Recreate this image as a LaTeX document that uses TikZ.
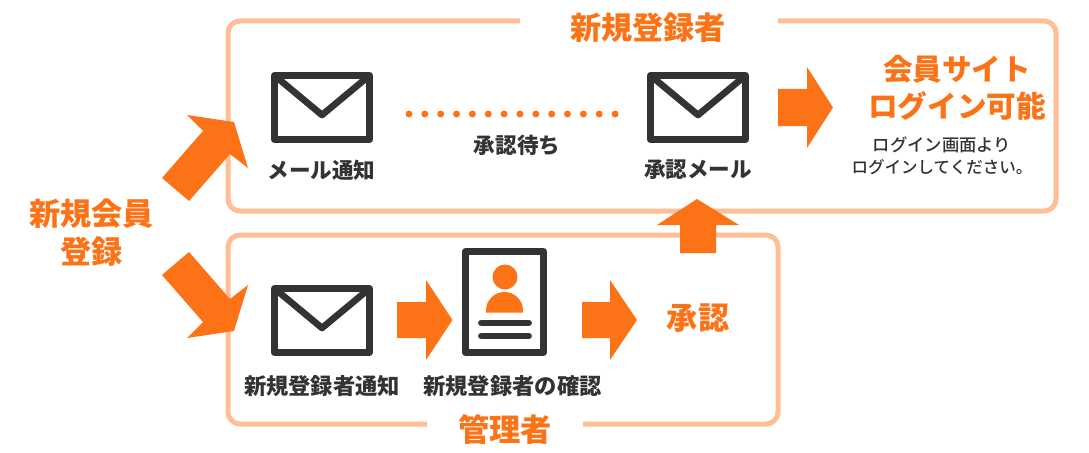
\documentclass[tikz,border=0pt]{standalone}
\usepackage{fontspec}
\setmainfont{Noto Sans CJK JP}
\newfontfamily\medfont{Noto Sans CJK JP Medium}
\definecolor{orangeMain}{HTML}{FC7216}
\definecolor{orangeLight}{HTML}{FFBE96}
\definecolor{ink}{HTML}{333333}
\newcommand{\fsz}[2]{\fontsize{#1}{#2}\selectfont}
\tikzset{
  x=0.75pt,y=-0.75pt,
  frameline/.style={draw=orangeLight,line width=3.75pt,rounded corners=9pt},
  blockarrow/.style={fill=orangeMain,draw=none},
  iconline/.style={draw=ink,line width=5.2pt,line join=round},
  title/.style={text=orangeMain,font=\bfseries\fsz{23.4}{28.5},align=center,inner sep=0pt},
  big/.style={text=orangeMain,font=\bfseries\fsz{22.2}{27.5},align=center,inner sep=0pt},
  caption/.style={text=ink,font=\bfseries\fsz{16.2}{20},align=center,inner sep=0pt},
  captionb/.style={text=ink,font=\bfseries\fsz{16.7}{20},align=center,inner sep=0pt},
  small/.style={text=ink,font=\medfont\fsz{12.7}{16.5},align=center,inner sep=0pt},
  dotmark/.style={circle,fill=orangeMain,draw=none,minimum size=5.2pt,inner sep=0pt},
}
\newcommand{\envelope}[2]{% left x, top y
  \draw[iconline] (#1+3.5,#2+3.5) rectangle (#1+98.5,#2+67.5);
  \draw[iconline,line width=5pt] (#1+3.5,#2+3.5) -- (#1+51,#2+43) -- (#1+98.5,#2+3.5);
}
\begin{document}
\begin{tikzpicture}
\useasboundingbox (0,0) rectangle (1089,453);
% frames
\draw[frameline] (520,21) -- (228,21) -- (228,211) -- (1056,211) -- (1056,21) -- (778,21);
\draw[frameline] (427,424) -- (228,424) -- (228,235) -- (778,235) -- (778,424) -- (583,424);
% diagonal arrows
\fill[blockarrow] (162,178) -- (203,131) -- (187,115) -- (234,122) -- (248,168) -- (230,154) -- (189,201) -- cycle;
\fill[blockarrow] (162,275) -- (203,322) -- (187,338) -- (234,331) -- (248,285) -- (230,299) -- (189,252) -- cycle;
% horizontal and vertical arrows
\fill[blockarrow] (778,89) -- (807,89) -- (807,67) -- (833,107.5) -- (807,148) -- (807,126) -- (778,126) -- cycle;
\fill[blockarrow] (397,302) -- (426,302) -- (426,280) -- (452.5,320) -- (426,360) -- (426,338) -- (397,338) -- cycle;
\fill[blockarrow] (582,302) -- (610,302) -- (610,280) -- (637,320) -- (610,360) -- (610,338) -- (582,338) -- cycle;
\fill[blockarrow] (680,253) -- (680,225) -- (657,225) -- (697,199) -- (739,225) -- (716,225) -- (716,253) -- cycle;
% icons
\envelope{271}{72}
\envelope{647}{72}
\envelope{271}{285}
\draw[iconline] (465.5,251.5) rectangle (543.5,352.5);
\fill[orangeMain] (505,277) circle [radius=12.5];
\fill[orangeMain] (486,312.5) -- (486,310.5) arc [start angle=180,end angle=360,radius=18.5] -- (523,312.5) -- cycle;
\draw[iconline,line cap=round] (481.5,323) -- (528.5,323);
\draw[iconline,line cap=round] (481.5,336) -- (528.5,336);
% dots
\foreach \i in {0,...,13} \node[dotmark] (dot\i) at (409+\i*15.85,114) {};
% texts
\node[title] (tNew) at (648,28) {新規登録者};
\node[title] (tAdmin) at (505,430) {管理者};
\node[title] (tApply) at (91.5,233) {新規会員\\登録};
\node[big] (tSite) at (957,88) {会員サイト\\ログイン可能};
\node[small] (tLogin) at (942,156) {\fsz{13}{16.5}ログイン画面より\\\fsz{12.4}{16.5}ログインしてください。};
\node[title] (tOk) at (698,318) {承認};
\node[caption] (c1) at (321.5,170) {メール通知};
\node[caption] (c2) at (517,145) {承認待ち};
\node[caption] (c3) at (698,170) {承認メール};
\node[captionb] (c4) at (322,386) {新規登録者通知};
\node[captionb] (c5) at (512.5,386) {新規登録者の確認};
\end{tikzpicture}
\end{document}
